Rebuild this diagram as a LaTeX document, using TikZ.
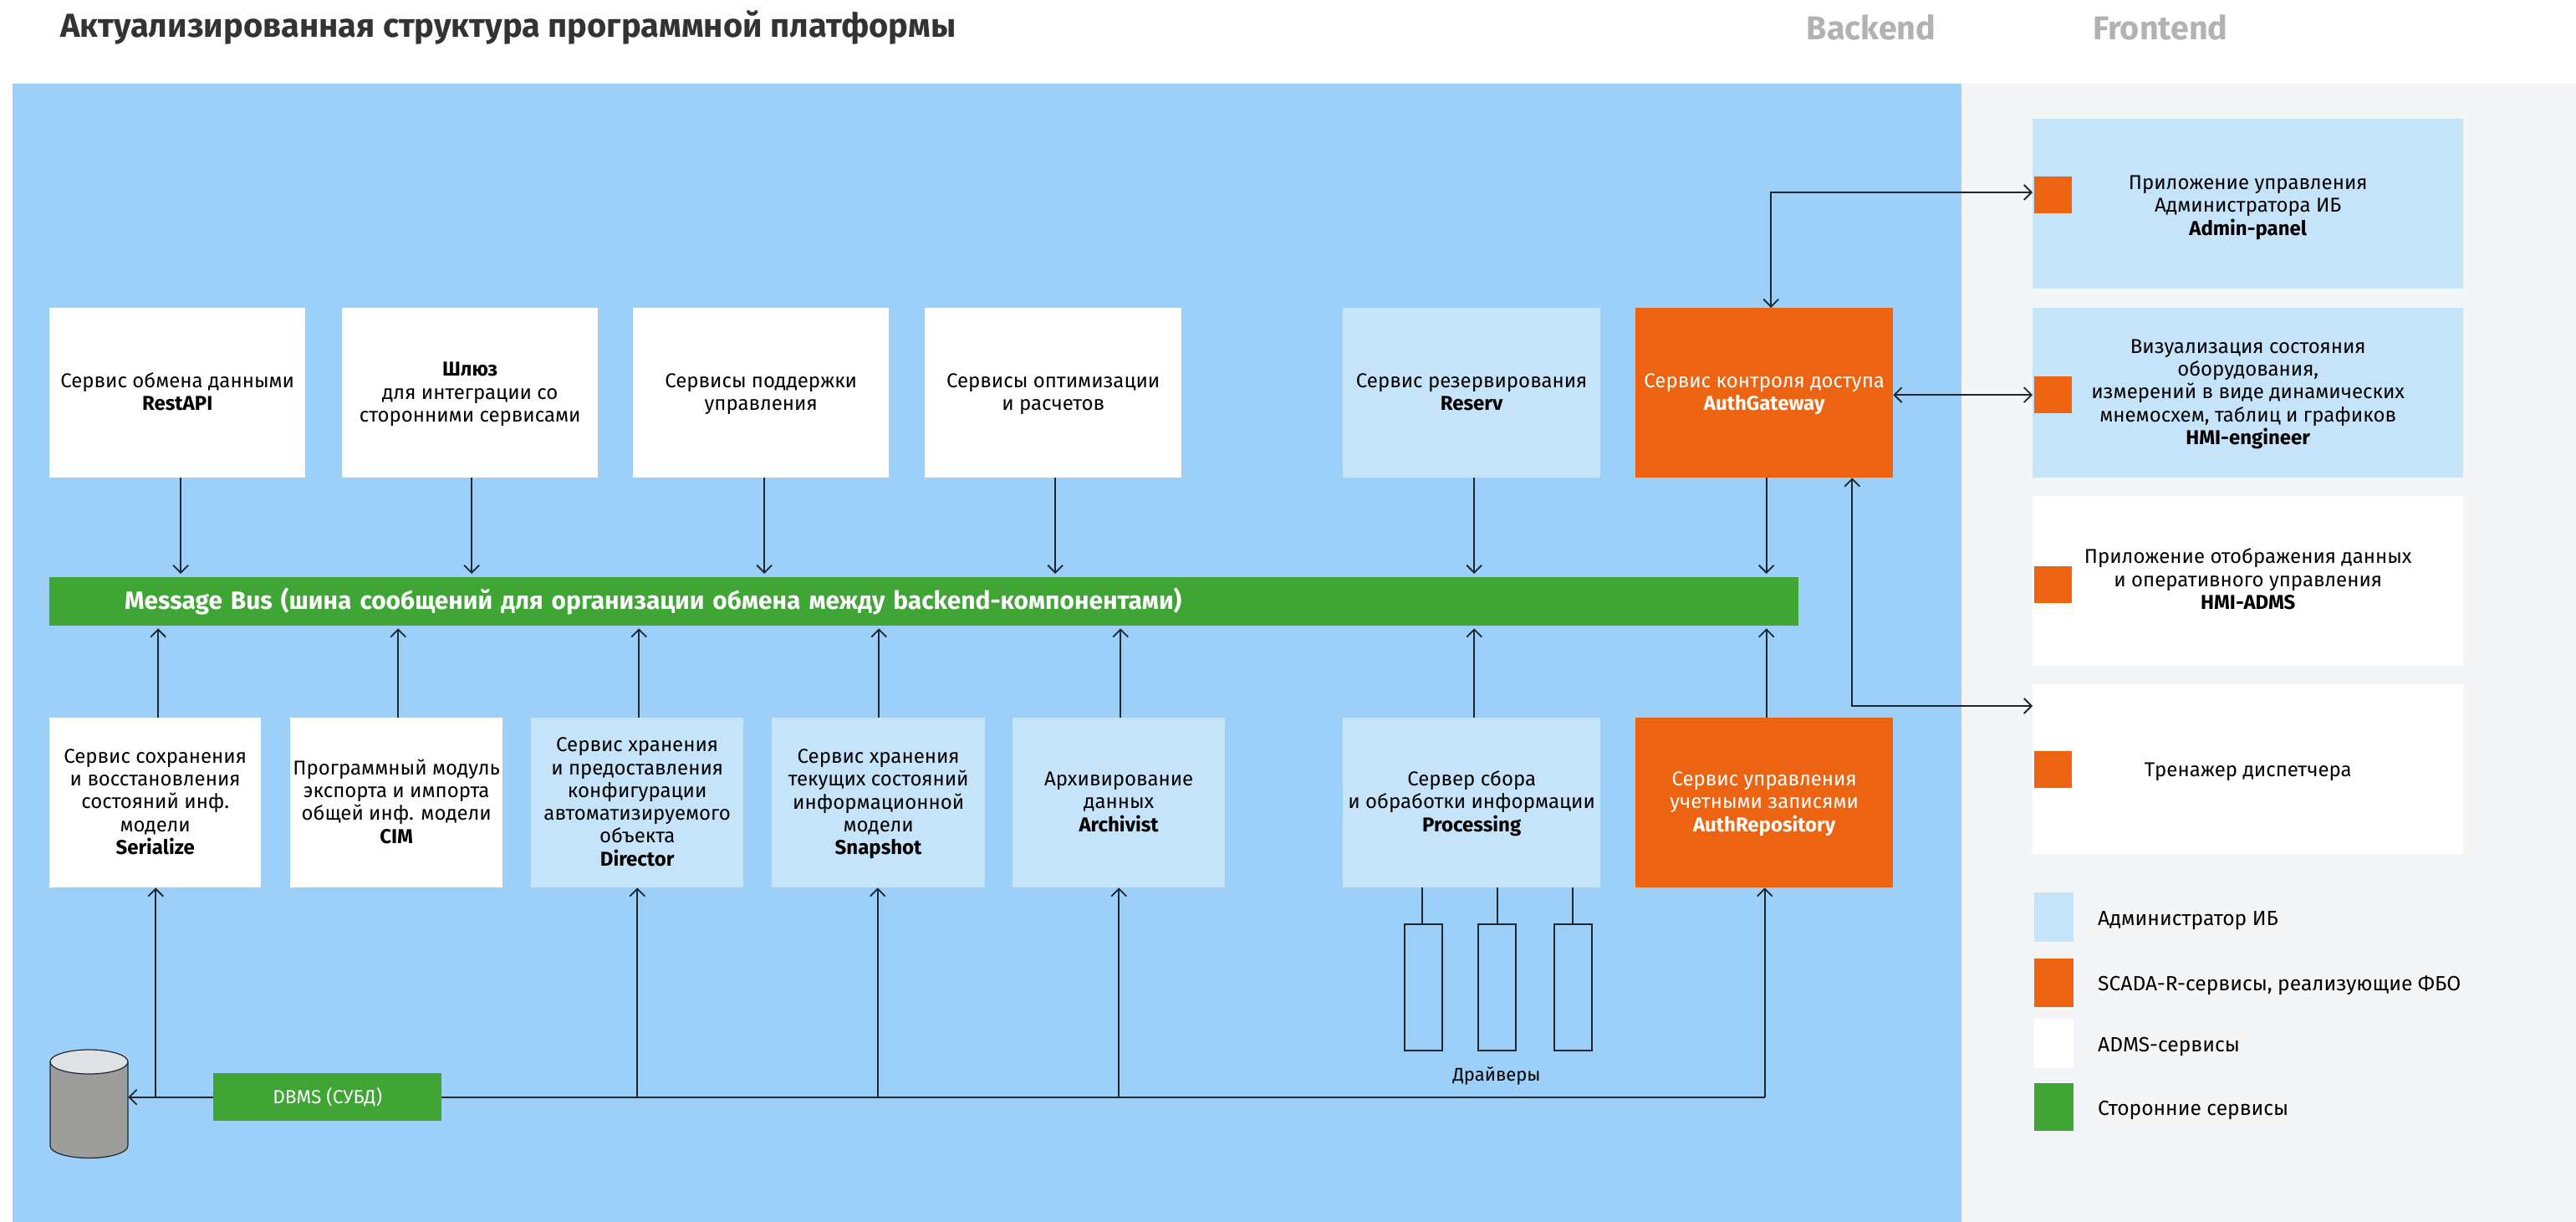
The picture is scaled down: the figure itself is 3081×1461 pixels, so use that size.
\documentclass[tikz,border=0pt]{standalone}
\usepackage{fontspec}
\setmainfont{Fira Sans}
\usetikzlibrary{arrows.meta,calc}
\definecolor{panel}{HTML}{9CD0F9}
\definecolor{light}{HTML}{C5E4FA}
\definecolor{orng}{HTML}{EC6412}
\definecolor{grn}{HTML}{3FA535}
\definecolor{side}{HTML}{F3F5F7}
\definecolor{ink}{HTML}{1D2731}
\definecolor{headgrey}{HTML}{B2B2B2}
\definecolor{dbbody}{HTML}{9D9D9C}
\definecolor{dbtop}{HTML}{DEE2E5}
\newcommand\tx[2][2pt]{\raisebox{-#1}[\height][\depth]{\begin{tabular}{@{}c@{}}#2\end{tabular}}}
\tikzset{
 x=1pt,y=-1pt,
 box/.style={anchor=north west,inner sep=0pt,text=black,minimum height=203pt,font=\fontsize{24}{27.3}\selectfont},
 wbox/.style={box,fill=white},
 lbox/.style={box,fill=light},
 obox/.style={box,fill=orng,text=white},
 swatch/.style={anchor=north west,inner sep=0pt,minimum width=47pt},
 mark sq/.style={anchor=north west,inner sep=0pt,minimum width=45pt,minimum height=44pt,fill=orng},
 wire/.style={draw=ink,line width=1.8pt},
 arr/.style={wire,-{Straight Barb[length=9pt,width=18pt,line width=1.8pt]}},
 darr/.style={wire,{Straight Barb[length=9pt,width=18pt,line width=1.8pt]}-{Straight Barb[length=9pt,width=18pt,line width=1.8pt]}},
 legend/.style={anchor=west,inner sep=0pt,font=\fontsize{24.6}{28}\selectfont},
 head/.style={anchor=center,inner sep=0pt,text=headgrey,font=\fontsize{39.5}{44}\selectfont\bfseries},
 drv/.style={anchor=north west,draw=ink,line width=1.8pt,inner sep=0pt,minimum width=45pt,minimum height=151pt},
}
\begin{document}
\begin{tikzpicture}
\useasboundingbox (0,0) rectangle (3081,1461);
\fill[white] (0,0) rectangle (3081,1461);
\fill[side] (2346,100) rectangle (3081,1461);
\fill[panel] (15,100) rectangle (2346,1461);
% headings
\node[anchor=west,inner sep=0pt,text=black!80,font=\fontsize{39.8}{44}\selectfont\bfseries] (title) at (72,33) {Актуализированная структура программной платформы};
\node[head] (hback) at (2238,33) {Backend};
\node[head] (hfront) at (2584,33) {Frontend};
% top row
\node[wbox,minimum width=306pt] (rest) at (59,368) {\tx{Сервис обмена данными\\\textbf{RestAPI}}};
\node[wbox,minimum width=306pt] (gate) at (409,368) {\tx{\textbf{Шлюз}\\для интеграции со\\сторонними сервисами}};
\node[wbox,minimum width=306pt] (supp) at (757,368) {\tx{Сервисы поддержки\\управления}};
\node[wbox,minimum width=307pt] (opt) at (1106,368) {\tx{Сервисы оптимизации\\и расчетов}};
\node[lbox,minimum width=308pt] (res) at (1606,368) {\tx{Сервис резервирования\\\textbf{Reserv}}};
\node[obox,minimum width=308pt] (agw) at (1956,368) {\tx{Сервис контроля доступа\\\textbf{AuthGateway}}};
% bus
\node[anchor=north west,fill=grn,text=white,inner sep=0pt,minimum height=58pt,text width=1912pt,inner xsep=90pt,align=left,font=\fontsize{29.9}{34}\selectfont\bfseries] (bus) at (59,690) {Message Bus (шина сообщений для организации обмена между backend-компонентами)};
% bottom row
\node[wbox,minimum width=253pt] (ser) at (59,858) {\tx{Сервис сохранения\\и восстановления\\состояний инф.\\модели\\\textbf{Serialize}}};
\node[wbox,minimum width=254pt] (cim) at (347,858) {\tx{Программный модуль\\экспорта и импорта\\общей инф. модели\\\textbf{CIM}}};
\node[lbox,minimum width=254pt] (dir) at (635,858) {\tx{Сервис хранения\\и предоставления\\конфигурации\\автоматизируемого\\объекта\\\textbf{Director}}};
\node[lbox,minimum width=255pt] (snap) at (923,858) {\tx{Сервис хранения\\текущих состояний\\информационной\\модели\\\textbf{Snapshot}}};
\node[lbox,minimum width=254pt] (arch) at (1211,858) {\tx{Архивирование\\данных\\\textbf{Archivist}}};
\node[lbox,minimum width=308pt] (proc) at (1606,858) {\tx{Сервер сбора\\и обработки информации\\\textbf{Processing}}};
\node[obox,minimum width=308pt] (arep) at (1956,858) {\tx{Сервис управления\\учетными записями\\\textbf{AuthRepository}}};
% drivers
\node[drv] (d1) at (1679,1104) {};
\node[drv] (d2) at (1767,1104) {};
\node[drv] (d3) at (1858,1104) {};
\node[inner sep=0pt,font=\fontsize{22}{26}\selectfont] (dlabel) at (1790,1286) {Драйверы};
% db
\node[anchor=north west,inner sep=0pt,minimum width=93pt,minimum height=130pt] (db) at (60,1255) {};
\draw[draw=ink,line width=1.2pt,fill=dbbody] (60,1270) -- (60,1370) arc[start angle=180,end angle=360,x radius=46.5pt,y radius=14.5pt] -- (153,1270) -- cycle;
\draw[draw=ink,line width=1.2pt,fill=dbtop] (106.5,1269.5) ellipse[x radius=46.5pt,y radius=14.5pt];
\node[anchor=north west,fill=grn,text=white,inner sep=0pt,minimum width=273pt,minimum height=57pt,font=\fontsize{22.7}{26}\selectfont] (dbms) at (255,1283) {DBMS (СУБД)};
% right column
\node[lbox,minimum width=515pt] (adm) at (2431,142) {\tx[5pt]{Приложение управления\\Администратора ИБ\\\textbf{Admin-panel}}};
\node[lbox,minimum width=515pt] (hmie) at (2431,368) {\tx{Визуализация состояния\\оборудования,\\измерений в виде динамических\\мнемосхем, таблиц и графиков\\\textbf{HMI-engineer}}};
\node[wbox,minimum width=515pt] (hmia) at (2431,593) {\tx[1pt]{Приложение отображения данных\\и оперативного управления\\\textbf{HMI-ADMS}}};
\node[wbox,minimum width=515pt] (train) at (2431,818) {\tx[3pt]{Тренажер диспетчера}};
\node[mark sq] (s1) at (2433,211) {};
\node[mark sq] (s2) at (2433,450) {};
\node[mark sq] (s3) at (2433,677) {};
\node[mark sq] (s4) at (2433,898) {};
% legend
\node[swatch,fill=light,minimum height=59pt] (l1) at (2433,1067) {};
\node[swatch,fill=orng,minimum height=58pt] (l2) at (2433,1146) {};
\node[swatch,fill=white,minimum height=59pt] (l3) at (2433,1218) {};
\node[swatch,fill=grn,minimum height=57pt] (l4) at (2433,1295) {};
\node[legend] (t1) at (2509,1101) {Администратор ИБ};
\node[legend] (t2) at (2509,1178) {SCADA-R-сервисы, реализующие ФБО};
\node[legend] (t3) at (2509,1251) {ADMS-сервисы};
\node[legend] (t4) at (2509,1327) {Сторонние сервисы};
% connectors down to bus
\foreach \n/\dx in {rest/4,gate/2,supp/4,opt/2.5,res/3,agw/2.5}
  \draw[arr,shorten >=4pt] ([xshift=\dx pt]\n.south) -- ([xshift=\dx pt]\n.south |- bus.north);
% connectors up to bus
\foreach \n/\dx in {ser/3.5,cim/2,dir/2,snap/0.5,arch/2,proc/3,arep/2.5}
  \draw[arr,shorten >=3pt] ([xshift=\dx pt]\n.north) -- ([xshift=\dx pt]\n.north |- bus.south);
% DBMS bus
\draw[arr] (dbms.west) -- (dbms.west -| db.east);
\draw[wire] (dbms.east) -- ([xshift=0.5pt]arep.south |- dbms.east) coordinate (corner);
\draw[arr] (corner) -- ([xshift=0.5pt]arep.south);
\foreach \n/\dx in {ser/0.5,dir/0,snap/-1,arch/0}
  \draw[arr] ([xshift=\dx pt]\n.south |- dbms.west) -- ([xshift=\dx pt]\n.south);
% drivers links
\foreach \a/\b in {d1/1701,d2/1791,d3/1881}
  \draw[wire] (\b,0 |- proc.south) -- (\b,0 |- \a.north);
% frontend links
\draw[darr] ([xshift=8pt]agw.north) |- (adm.west |- 0,230);
\draw[darr] (agw.east |- s2.center) -- (hmie.west |- s2.center);
\draw[darr] ([xshift=105pt]agw.south) |- (train.west |- 0,844);
\end{tikzpicture}
\end{document}
